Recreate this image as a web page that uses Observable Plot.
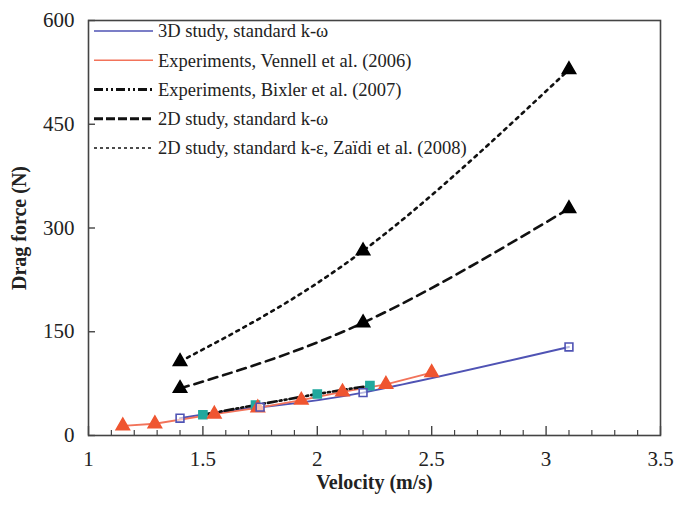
<!DOCTYPE html>
<html><head><meta charset="utf-8">
<script src="https://cdn.jsdelivr.net/npm/d3@7"></script>
<script src="https://cdn.jsdelivr.net/npm/@observablehq/plot@0.6"></script>
<style>
body{margin:0;background:#fff;}
#chart{position:relative;width:675px;height:507px;}
#legend{position:absolute;left:0;top:0;pointer-events:none;}
</style></head><body><div id="chart"></div>
<script>
// ---- data ----
const vel3D = [1.4, 1.75, 2.2, 3.1];
const force3D = [25, 41, 62, 128];
const velVennell = [1.15, 1.29, 1.55, 1.74, 1.93, 2.11, 2.30, 2.50];
const forceVennell = [14, 17, 31, 40, 51, 63, 74, 91];
const velBixler = [1.5, 1.73, 2.0, 2.23];
const forceBixler = [30, 44, 60, 72];
const vel2Dkw = [1.4, 2.2, 3.1];
const force2Dkw = [68, 163, 328];
const vel2Dke = [1.4, 2.2, 3.1];
const force2Dke = [107, 267, 529];
const xTicks = [1, 1.5, 2, 2.5, 3, 3.5];
const xMinorTicks = [1.1,1.2,1.3,1.4,1.6,1.7,1.8,1.9,2.1,2.2,2.3,2.4,2.6,2.7,2.8,2.9,3.1,3.2,3.3,3.4];
const yTicks = [0, 150, 300, 450, 600];
const xTitle = "Velocity (m/s)";
const yTitle = "Drag force (N)";
const legendLabels = [
  "3D study, standard k-ω",
  "Experiments, Vennell et al. (2006)",
  "Experiments, Bixler et al. (2007)",
  "2D study, standard k-ω",
  "2D study, standard k-ε, Zaïdi et al. (2008)"
];

const zip = (xs, ys) => xs.map((x, i) => ({x, y: ys[i]}));
const d3D = zip(vel3D, force3D), dV = zip(velVennell, forceVennell), dB = zip(velBixler, forceBixler),
      dKW = zip(vel2Dkw, force2Dkw), dKE = zip(vel2Dke, force2Dke);

const W = 675, H = 507, mL = 88, mR = 15, mT = 20, mB = 72;
const plotW = W - mL - mR, plotH = H - mT - mB;
const BLUE = "#4f53b4", RED = "#ef5530", REDLINE = "#f2735a", TEAL = "#22a89e", INK = "#222";
const FONT = "'Liberation Serif', 'Times New Roman', serif";

const chart = Plot.plot({
  width: W, height: H, marginLeft: mL, marginRight: mR, marginTop: mT, marginBottom: mB,
  style: {fontFamily: FONT, background: "#fff", color: INK},
  x: {domain: [1, 3.5], label: null},
  y: {domain: [0, 600], label: null},
  marks: [
    Plot.tickX(xMinorTicks, {x: d => d, insetTop: plotH - 5, stroke: "#444", strokeWidth: 1.2}),
    Plot.tickX(xTicks, {x: d => d, insetTop: plotH - 9, stroke: "#444", strokeWidth: 1.4}),
    Plot.tickY(yTicks, {y: d => d, insetRight: plotW - 7, stroke: "#444", strokeWidth: 1.4}),
    Plot.axisX({ticks: xTicks, tickSize: 0, tickPadding: 16, fontSize: 21, tickFormat: d => String(d), label: null}),
    Plot.axisY({ticks: yTicks, tickSize: 0, tickPadding: 14, fontSize: 21, tickFormat: d => String(d), label: null}),
    Plot.frame({stroke: "#444", strokeWidth: 1.6}),
    // 2D k-epsilon (Zaidi)
    Plot.line(dKE, {x: "x", y: "y", stroke: "#111", strokeWidth: 2.6, strokeDasharray: "3,5", curve: "natural"}),
    // 2D k-omega
    Plot.line(dKW, {x: "x", y: "y", stroke: "#111", strokeWidth: 2.6, strokeDasharray: "9,6", curve: "natural"}),
    // 3D
    Plot.line(d3D, {x: "x", y: "y", stroke: BLUE, strokeWidth: 2, curve: "natural"}),
    // Vennell
    Plot.line(dV, {x: "x", y: "y", stroke: REDLINE, strokeWidth: 1.8}),
    // Bixler
    Plot.line(dB, {x: "x", y: "y", stroke: "#111", strokeWidth: 2.6, strokeDasharray: "9,3,2,3,2,3"}),
    Plot.dot(dB, {x: "x", y: "y", symbol: "square", r: 4.6, fill: TEAL, stroke: TEAL}),
    Plot.dot(dV, {x: "x", y: "y", symbol: "triangle", r: 5, fill: RED, stroke: RED}),
    Plot.dot(d3D, {x: "x", y: "y", symbol: "square", r: 4.4, fill: "#fff", fillOpacity: 0.6, stroke: BLUE, strokeWidth: 1.6}),
    Plot.dot(dKW, {x: "x", y: "y", symbol: "triangle", r: 5, fill: "#000", stroke: "#000"}),
    Plot.dot(dKE, {x: "x", y: "y", symbol: "triangle", r: 5, fill: "#000", stroke: "#000"}),
    // axis titles, placed relative to the frame
    Plot.text([xTitle], {frameAnchor: "bottom", dy: 47, text: d => d, fontSize: 20, fontWeight: "bold", fill: INK, lineAnchor: "middle", textAnchor: "middle"}),
    Plot.text([yTitle], {frameAnchor: "left", dx: -69, rotate: -90, text: d => d, fontSize: 20, fontWeight: "bold", fill: INK, lineAnchor: "middle", textAnchor: "middle"})
  ]
});
document.getElementById("chart").appendChild(chart);

// ---- legend (inside top-left of plot) ----
const legendStyles = [
  {stroke: BLUE, width: 1.4, dash: null},
  {stroke: REDLINE, width: 1.6, dash: null},
  {stroke: "#111", width: 3, dash: "9,3,2,3,2,3"},
  {stroke: "#111", width: 3, dash: "9,3"},
  {stroke: "#111", width: 1.6, dash: "3,3"}
];
const leg = d3.select("#chart").append("svg").attr("id", "legend").attr("width", W).attr("height", H);
const rowY = d3.scaleLinear().domain([0, 4]).range([31, 148]);
legendLabels.forEach((lab, i) => {
  const st = legendStyles[i];
  const y = rowY(i);
  leg.append("line").attr("x1", 94).attr("x2", 153).attr("y1", y).attr("y2", y)
    .attr("stroke", st.stroke).attr("stroke-width", st.width).attr("stroke-dasharray", st.dash);
  leg.append("text").attr("x", 158).attr("y", y).attr("dy", "0.35em")
    .attr("font-family", FONT).attr("font-size", 18.5).attr("fill", INK).text(lab);
});
</script></body></html>
